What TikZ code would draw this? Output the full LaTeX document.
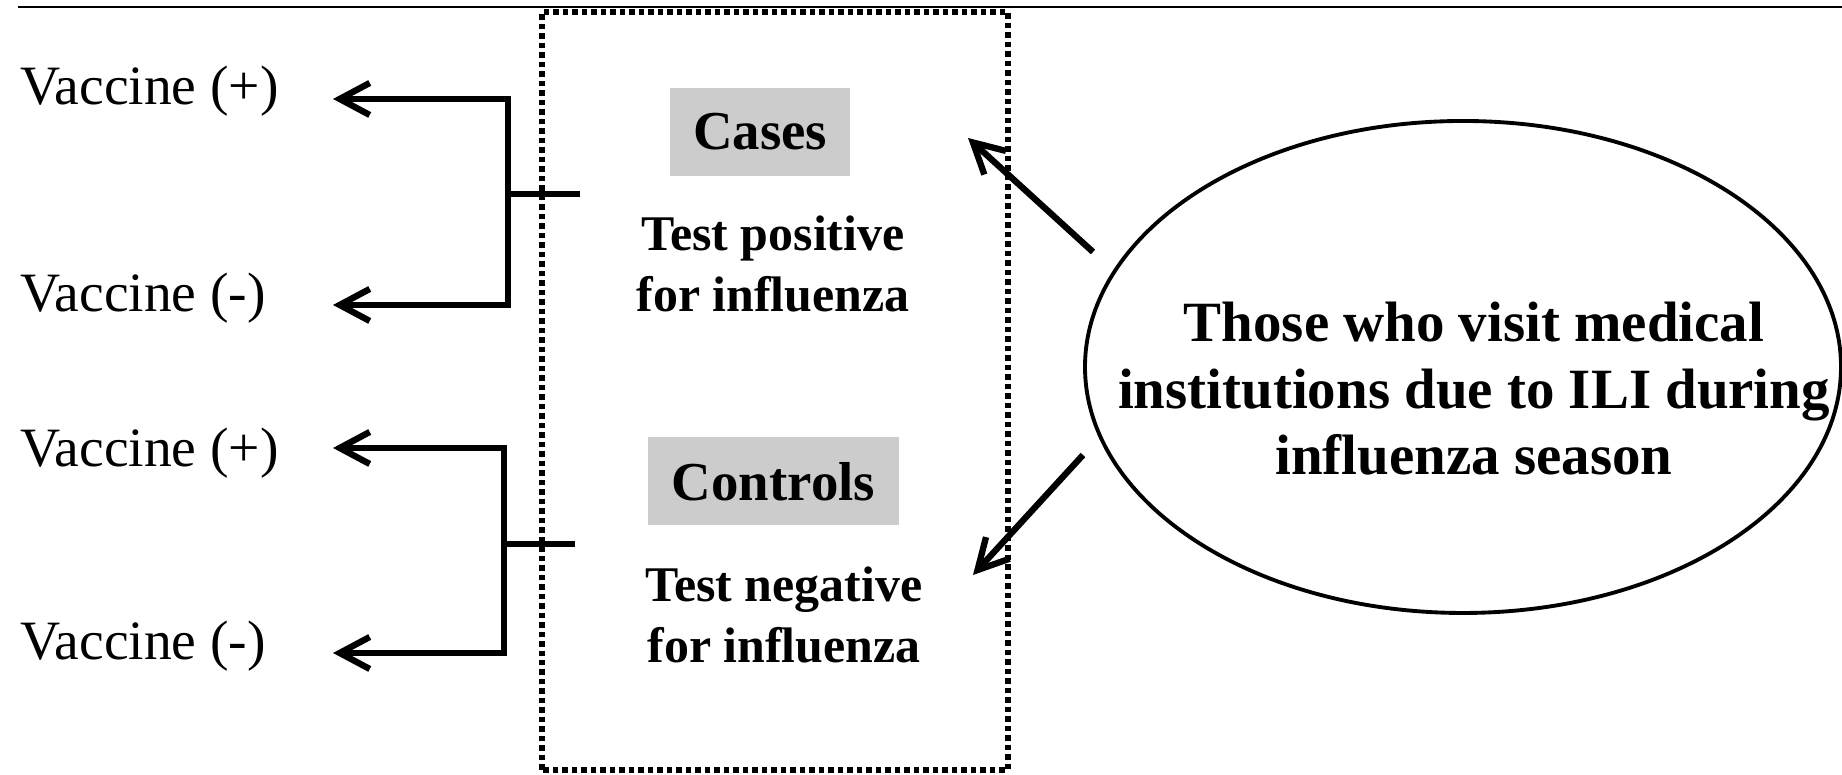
\documentclass[tikz,border=0pt]{standalone}
\usepackage{fontspec}
\setmainfont{Liberation Serif}
\usetikzlibrary{arrows.meta,shapes.geometric}
\definecolor{labelgray}{RGB}{204,204,204}

\begin{document}
\begin{tikzpicture}[
  >={Straight Barb[length=3mm,width=3.2mm]},
  arr/.style={->,line width=1.8pt},
  fork/.style={line width=1.8pt},
  vac/.style={anchor=base west,inner sep=0pt,font=\fontsize{15.8}{19}\selectfont},
  grp/.style={fill=labelgray,inner sep=0pt,minimum height=0.88cm,font=\fontsize{15.6}{19}\selectfont\bfseries},
  res/.style={align=center,inner sep=0pt,font=\fontsize{14.2}{17.6}\selectfont\bfseries}]
\useasboundingbox (0,0) rectangle (18.42,7.75);
% \draw[help lines] (0,0) grid (18,7);
\draw[line width=0.7pt] (0.18,7.68) -- (18.42,7.68);
\draw[line width=1.6pt,dash pattern=on 0.055cm off 0.04cm] (5.42,0.05) rectangle (10.08,7.63);
%
\node (vp1) [vac] at (0.20,6.70) {Vaccine (+)};
\node (vm1) [vac] at (0.20,4.63) {Vaccine (-)};
\node (vp2) [vac] at (0.20,3.08) {Vaccine (+)};
\node (vm2) [vac] at (0.20,1.15) {Vaccine (-)};
%
\node (cases) [grp,minimum width=1.80cm] at (7.60,6.43) {Cases};
\node (pos) [res] at (7.73,5.11) {Test positive\\for influenza};
\node (controls) [grp,minimum width=2.51cm] at (7.735,2.935) {Controls};
\node (neg) [res] at (7.84,1.60) {Test negative\\for influenza};
%
\node (pop) [ellipse,draw,line width=1.1pt,minimum width=7.56cm,minimum height=4.92cm,inner sep=0pt] at (14.63,4.08) {};
\node (poptext) [align=center,inner sep=0pt,font=\fontsize{16.2}{18.9}\selectfont\bfseries] at (14.74,3.86)
  {Those who visit medical\\institutions due to ILI during\\influenza season};
%
\coordinate (j1) at (5.08,5.81);
\coordinate (s1) at (5.80,5.81);
\coordinate (tp1) at (3.33,6.76);
\coordinate (tm1) at (3.33,4.70);
\coordinate (j2) at (5.04,2.31);
\coordinate (s2) at (5.75,2.31);
\coordinate (tp2) at (3.33,3.27);
\coordinate (tm2) at (3.33,1.22);
\draw[fork] (j1) -- (s1);
\draw[arr,<->] (tp1) -| (j1) |- (tm1);
\draw[fork] (j2) -- (s2);
\draw[arr,<->] (tp2) -| (j2) |- (tm2);
%
\coordinate (f1) at (10.93,5.23);
\coordinate (h1) at (9.68,6.37);
\coordinate (f2) at (10.83,3.20);
\coordinate (h2) at (9.73,2.00);
\draw[arr] (f1) -- (h1);
\draw[arr] (f2) -- (h2);
\end{tikzpicture}
\end{document}
